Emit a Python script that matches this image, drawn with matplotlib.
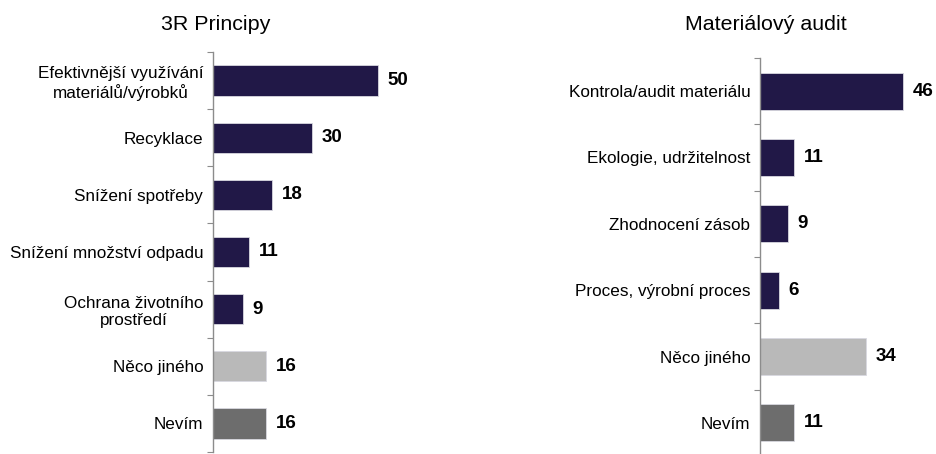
import matplotlib.pyplot as plt
import numpy as np

plt.rcParams["font.family"] = ["Liberation Sans", "DejaVu Sans"]

left_title = "3R Principy"
left_labels = [
    "Efektivnější využívání\nmateriálů/výrobků",
    "Recyklace",
    "Snížení spotřeby",
    "Snížení množství odpadu",
    "Ochrana životního\nprostředí",
    "Něco jiného",
    "Nevím",
]
left_values = [50, 30, 18, 11, 9, 16, 16]

right_title = "Materiálový audit"
right_labels = [
    "Kontrola/audit materiálu",
    "Ekologie, udržitelnost",
    "Zhodnocení zásob",
    "Proces, výrobní proces",
    "Něco jiného",
    "Nevím",
]
right_values = [46, 11, 9, 6, 34, 11]

NAVY = "#211847"
LIGHT = "#b9b9b9"
DARK = "#6d6d6d"
SPINE = "#8c8c8c"

W, H = 936, 454
fig = plt.figure(figsize=(W / 100, H / 100), dpi=100)


def px_axes(x0, y0, x1, y1):
    # pixel box (top-left origin) -> figure fraction
    return fig.add_axes([x0 / W, 1 - y1 / H, (x1 - x0) / W, (y1 - y0) / H])


def draw(ax, labels, values, height, xmax):
    n = len(labels)
    y = np.arange(n)
    colors = [NAVY] * (n - 2) + [LIGHT, DARK]
    ax.barh(y, values, height=height, color=colors, edgecolor="#d8d8e0", linewidth=0.6)
    ax.set_ylim(n - 0.5, -0.5)
    ax.set_xlim(0, xmax)
    ax.set_yticks(y)
    ax.set_yticklabels(labels, fontsize=12.3, multialignment="center")
    ax.tick_params(axis="y", which="major", length=0, pad=7)
    ax.set_yticks(np.arange(n + 1) - 0.5, minor=True)
    ax.tick_params(axis="y", which="minor", length=4, color=SPINE, width=0.8)
    ax.set_xticks([])
    for s in ["top", "right", "bottom"]:
        ax.spines[s].set_visible(False)
    ax.spines["left"].set_color(SPINE)
    ax.spines["left"].set_linewidth(1.0)
    for yi, v in zip(y, values):
        ax.annotate(str(v), (v, yi), xytext=(7, 0), textcoords="offset points",
                    va="center", ha="left", fontsize=13.5, fontweight="bold")


ax1 = px_axes(213, 52, 394, 452)
draw(ax1, left_labels, left_values, 0.53, 55)
fig.text(216 / W, 1 - 24 / H, left_title, fontsize=15.4, ha="center", va="center")

ax2 = px_axes(760, 58, 931, 456)
draw(ax2, right_labels, right_values, 0.56, 55)
fig.text(766 / W, 1 - 24 / H, right_title, fontsize=15.4, ha="center", va="center")

fig.savefig("out.png", dpi=100)
